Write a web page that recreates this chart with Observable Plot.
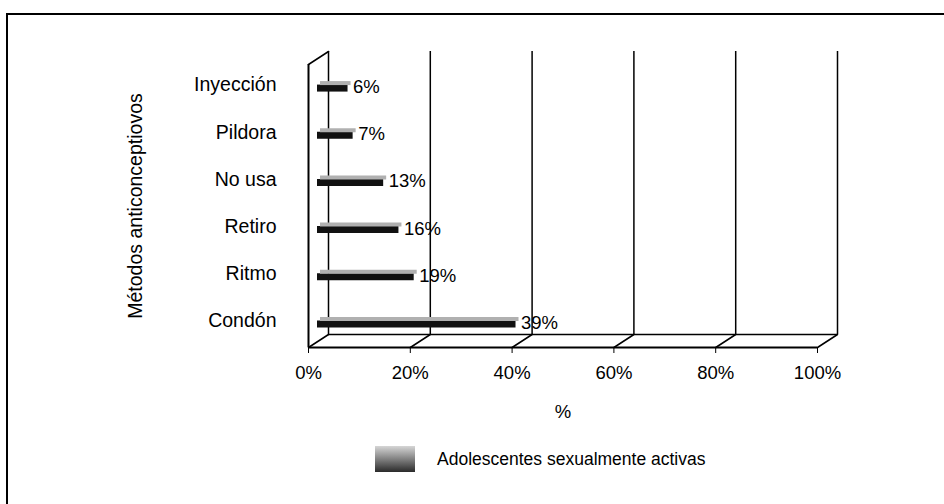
<!DOCTYPE html>
<html>
<head>
<meta charset="utf-8">
<script src="https://cdn.jsdelivr.net/npm/d3@7"></script>
<script src="https://cdn.jsdelivr.net/npm/@observablehq/plot@0.6"></script>
<style>
  body { margin: 0; background: #fff; font-family: "Liberation Sans", Arial, sans-serif; }
  #wrap { position: relative; width: 944px; height: 504px; overflow: hidden; }
  #border { position: absolute; left: 6px; top: 13px; width: 944px; height: 500px;
            border-left: 2px solid #000; border-top: 2px solid #000; }
  #chart { position: absolute; left: 0; top: 0; }
  #legend { position: absolute; left: 375px; top: 446px; display: flex; align-items: center;
            font-size: 17.5px; color: #000; }
  #legend .sw { width: 40px; height: 26px; margin-right: 22px;
                background: linear-gradient(#d6d6d6, #8a8a8a 45%, #2a2a2a); }
</style>
</head>
<body>
<div id="wrap">
  <div id="border"></div>
  <div id="chart"></div>
  <div id="legend"><span class="sw"></span><span>Adolescentes sexualmente activas</span></div>
</div>
<script>
const categories = ["Condón", "Ritmo", "Retiro", "No usa", "Pildora", "Inyección"];
const values = [39, 19, 16, 13, 7, 6];
const xTicks = [0, 20, 40, 60, 80, 100];
const xLabel = "%";
const yLabel = "Métodos anticonceptiovos";
const seriesName = "Adolescentes sexualmente activas";

const data = categories.map((c, i) => ({cat: c, pos: i + 0.5, value: values[i]}));
const yPositions = data.map(d => d.pos);

// depth offset of the 3D back wall (pixels)
const DX = 20, DY = -13;
const depthLen = Math.hypot(DX, DY);
const depthAngle = Math.atan2(DX, -DY) * 180 / Math.PI;
const lineShape = {draw(ctx, l) { ctx.moveTo(0, 0); ctx.lineTo(0, -l); }};

const chart = Plot.plot({
  width: 944,
  height: 430,
  marginLeft: 308,
  marginRight: 127,
  marginTop: 64,
  marginBottom: 83,
  style: {fontFamily: '"Liberation Sans", Arial, sans-serif', fontSize: "18px", color: "#000", background: "transparent"},
  x: {domain: [0, 100]},
  y: {domain: [0, categories.length]},
  marks: [
    // back wall gridlines
    Plot.ruleX(xTicks, {y1: 0, y2: categories.length, dx: DX, dy: DY, stroke: "#000", strokeWidth: 1.5}),
    // back floor edge
    Plot.ruleY([0], {x1: 0, x2: 100, dx: DX, dy: DY, stroke: "#000", strokeWidth: 1.5}),
    // front floor edge
    Plot.ruleY([0], {x1: 0, x2: 100, stroke: "#000", strokeWidth: 2}),
    // front left wall edge
    Plot.ruleX([0], {y1: 0, y2: categories.length, stroke: "#000", strokeWidth: 2}),
    // depth diagonals on the floor
    Plot.vector(xTicks, {x: d => d, y: 0, length: depthLen, rotate: depthAngle, anchor: "start", shape: lineShape, stroke: "#000", strokeWidth: 1.5}),
    // top-left depth diagonal
    Plot.vector([0], {x: d => d, y: categories.length, length: depthLen, rotate: depthAngle, anchor: "start", shape: lineShape, stroke: "#000", strokeWidth: 1.5}),
    // bars: dark front face and light top face
    Plot.ruleY(data, {y: "pos", x1: 0, x2: "value", dx: 9, stroke: "#111", strokeWidth: 7}),
    Plot.ruleY(data, {y: "pos", x1: 0, x2: "value", dx: 12, dy: -5, stroke: "#b0b0b0", strokeWidth: 4}),
    // value labels
    Plot.text(data, {x: "value", y: "pos", text: d => d.value + "%", textAnchor: "start", dx: 14, dy: -1, fontSize: 18.5, fill: "#000"}),
    Plot.axisX(xTicks, {tickFormat: d => d + "%", tickSize: 6, tickPadding: 12, fontSize: 18.5,
      label: xLabel, labelAnchor: "center", labelOffset: 70, labelArrow: "none", stroke: "#000"}),
    Plot.axisY(yPositions, {tickFormat: (d, i) => categories[i], tickSize: 0, tickPadding: 32, fontSize: 19.5,
      label: yLabel, labelAnchor: "center", labelOffset: 180, labelArrow: "none", dy: -3})
  ]
});
document.getElementById("chart").appendChild(chart);
</script>
</body>
</html>
